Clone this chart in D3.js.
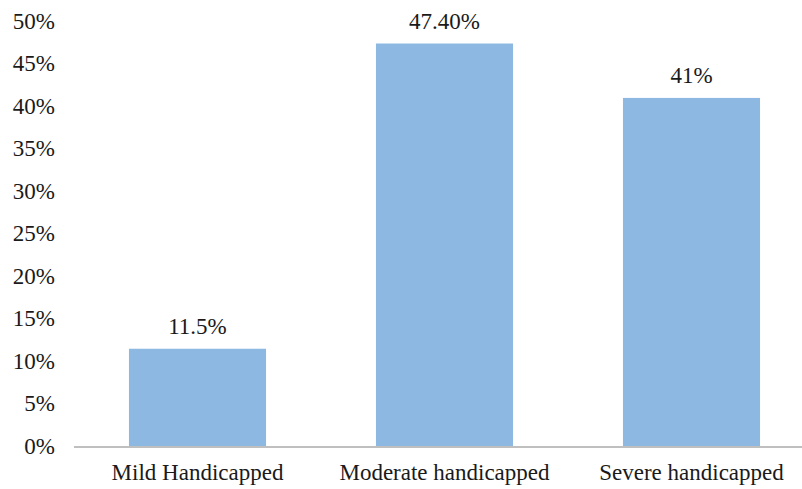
<!DOCTYPE html>
<html>
<head>
<meta charset="utf-8">
<script src="https://cdn.jsdelivr.net/npm/d3@7"></script>
<style>
  body { margin: 0; background: #fff; }
  text { font-family: "Liberation Serif", "Times New Roman", serif; fill: #1a1a1a; }
</style>
</head>
<body>
<div id="chart"></div>
<script>
// Data
const categories = ["Mild Handicapped", "Moderate handicapped", "Severe handicapped"];
const values = [11.5, 47.4, 41];
const valueLabels = ["11.5%", "47.40%", "41%"];
const yTicks = [0, 5, 10, 15, 20, 25, 30, 35, 40, 45, 50];

const W = 802, H = 489;
const svg = d3.select("#chart").append("svg")
  .attr("width", W)
  .attr("height", H);

// plot area runs a bit past the right edge, like the cropped original
const x = d3.scaleBand()
  .domain(categories)
  .range([74, 815])
  .paddingInner(0.445)
  .paddingOuter(0.2225);

const y = d3.scaleLinear()
  .domain([0, 50])
  .range([446.5, 21.4]);

// y labels (no axis line, no ticks)
svg.append("g")
  .selectAll("text")
  .data(yTicks)
  .enter()
  .append("text")
  .attr("x", 55)
  .attr("y", d => y(d) + 7.5)
  .attr("text-anchor", "end")
  .style("font-size", "23px")
  .text(d => d + "%");

// bars
svg.selectAll(".bar")
  .data(values)
  .enter()
  .append("rect")
  .attr("class", "bar")
  .attr("x", (d, i) => x(categories[i]))
  .attr("y", d => y(d))
  .attr("width", x.bandwidth())
  .attr("height", d => y(0) - y(d))
  .style("fill", "#8db8e2");

// baseline
svg.append("line")
  .attr("x1", 74).attr("x2", W)
  .attr("y1", y(0) + 0.5).attr("y2", y(0) + 0.5)
  .style("stroke", "#bfbfbf")
  .style("stroke-width", 2);

// value labels
svg.selectAll(".val")
  .data(values)
  .enter()
  .append("text")
  .attr("class", "val")
  .attr("x", (d, i) => x(categories[i]) + x.bandwidth() / 2)
  .attr("y", d => y(d) - 15)
  .attr("text-anchor", "middle")
  .style("font-size", "23px")
  .text((d, i) => valueLabels[i]);

// category labels
svg.selectAll(".cat")
  .data(categories)
  .enter()
  .append("text")
  .attr("class", "cat")
  .attr("x", d => x(d) + x.bandwidth() / 2)
  .attr("y", 480)
  .attr("text-anchor", "middle")
  .style("font-size", "23px")
  .text(d => d);
</script>
</body>
</html>
